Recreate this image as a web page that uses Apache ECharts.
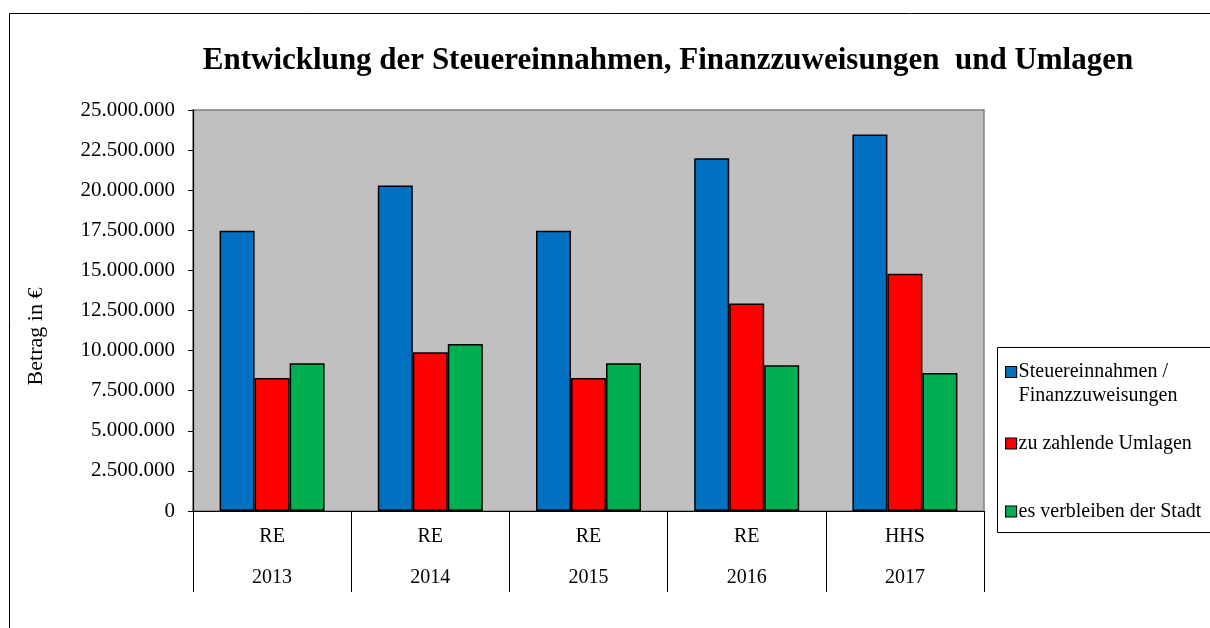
<!DOCTYPE html>
<html>
<head>
<meta charset="utf-8">
<script src="https://cdn.jsdelivr.net/npm/echarts@6/dist/echarts.min.js"></script>
<style>
html, body { margin: 0; padding: 0; background: #fff; }
#chart { width: 1210px; height: 628px; }
</style>
</head>
<body>
<div id="chart"></div>
<script>
// Kategorien (zweizeilige Achsenbeschriftung)
var kinds = ['RE', 'RE', 'RE', 'RE', 'HHS'];
var years = ['2013', '2014', '2015', '2016', '2017'];
// Werte in Euro
var steuern = [17470000, 20300000, 17470000, 21990000, 23480000];
var umlagen = [8290000, 9890000, 8290000, 12930000, 14790000];
var verbleib = [9210000, 10410000, 9210000, 9080000, 8600000];
var seriesNames = ['Steuereinnahmen / Finanzzuweisungen', 'zu zahlende Umlagen', 'es verbleiben der Stadt'];
var colors = ['#0070C0', '#FF0000', '#00B050'];

var serif = '"Liberation Serif", "Times New Roman", serif';

function fmt(v) {
	return String(v).replace(/\B(?=(\d{3})+(?!\d))/g, '.');
}

var categories = years.map(function (y, i) { return kinds[i] + '\n' + y; });

function bar(name, data, color) {
	return {
		name: name,
		type: 'bar',
		data: data,
		barWidth: 35,
		barGap: '0%',
		itemStyle: { color: color, borderColor: '#000', borderWidth: 1.5 }
	};
}

// eine Legende pro Eintrag, damit die Abstaende wie im Original sind
function legendAt(name, top, formatter) {
	return {
		data: [name],
		orient: 'vertical',
		left: 1005,
		top: top,
		icon: 'rect',
		itemWidth: 11,
		itemHeight: 11,
		itemGap: 0,
		padding: 0,
		formatter: formatter,
		itemStyle: { borderColor: '#000', borderWidth: 1.2 },
		textStyle: { fontFamily: serif, fontSize: 20, color: '#000', lineHeight: 24, padding: [0, 0, 0, -3] }
	};
}

var chart = echarts.init(document.getElementById('chart'), null, { renderer: 'canvas' });
chart.setOption({
	animation: false,
	backgroundColor: '#fff',
	title: {
		text: 'Entwicklung der Steuereinnahmen, Finanzzuweisungen  und Umlagen',
		left: 663,
		textAlign: 'center',
		top: 40,
		textStyle: { fontFamily: serif, fontSize: 31, fontWeight: 'bold', color: '#000' }
	},
	legend: [
		// leere erste Zeile: Symbol steht auf Hoehe der ersten Textzeile
		legendAt(seriesNames[0], 336, function () { return '\nSteuereinnahmen /\nFinanzzuweisungen'; }),
		legendAt(seriesNames[1], 431.5),
		legendAt(seriesNames[2], 499.5)
	],
	graphic: [
		{ type: 'rect', shape: { x: 9.5, y: 13.5, width: 1400, height: 800 }, style: { fill: 'none', stroke: '#000', lineWidth: 1 }, silent: true },
		{ type: 'rect', shape: { x: 997.5, y: 347.5, width: 300, height: 185 }, style: { fill: 'none', stroke: '#000', lineWidth: 1 }, silent: true }
	],
	grid: {
		left: 193,
		right: 226,
		top: 110,
		bottom: 117,
		show: true,
		backgroundColor: '#C0C0C0',
		borderColor: '#808080',
		borderWidth: 1.5
	},
	xAxis: {
		type: 'category',
		data: categories,
		axisLine: { lineStyle: { color: '#000', width: 1.2 } },
		axisTick: { show: true, interval: 0, length: 81, lineStyle: { color: '#000', width: 1 } },
		axisLabel: {
			interval: 0,
			margin: 5,
			fontFamily: serif,
			fontSize: 20,
			color: '#000',
			lineHeight: 41
		}
	},
	yAxis: {
		type: 'value',
		min: 0,
		max: 25000000,
		interval: 2500000,
		name: 'Betrag in €',
		nameLocation: 'middle',
		nameGap: 146,
		nameRotate: 90,
		nameTextStyle: { fontFamily: serif, fontSize: 22, color: '#000', padding: [0, 52, 0, 0] },
		axisLine: { show: true, lineStyle: { color: '#000', width: 1.2 } },
		axisTick: { show: true, length: 5, lineStyle: { color: '#000' } },
		splitLine: { show: false },
		axisLabel: {
			margin: 18,
			fontFamily: serif,
			fontSize: 21,
			color: '#000',
			formatter: fmt
		}
	},
	series: [
		bar(seriesNames[0], steuern, colors[0]),
		bar(seriesNames[1], umlagen, colors[1]),
		bar(seriesNames[2], verbleib, colors[2])
	]
});
</script>
</body>
</html>
